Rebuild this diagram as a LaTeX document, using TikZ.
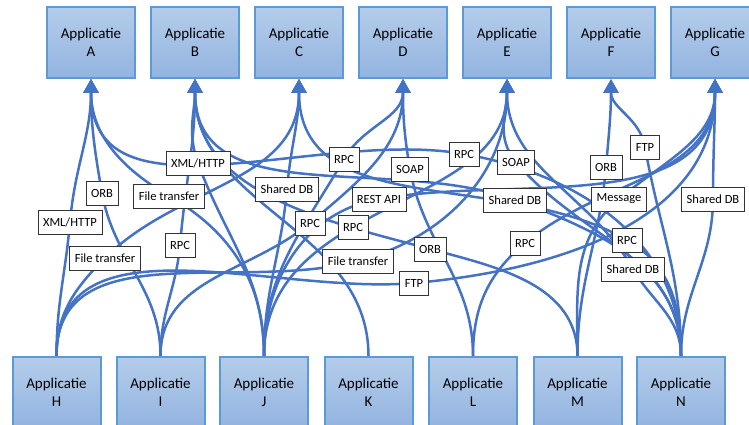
\documentclass[tikz,border=0pt]{standalone}
\usepackage{fontspec}
\setmainfont{Carlito}
\usetikzlibrary{arrows.meta,backgrounds}

\definecolor{appedge}{HTML}{5B9BD5}
\definecolor{apptop}{HTML}{B4CCEA}
\definecolor{appbottom}{HTML}{93B4E0}
\definecolor{linkblue}{HTML}{4472C4}

\tikzset{
  app/.style={draw=appedge, line width=2pt, top color=apptop, bottom color=appbottom,
    minimum width=88, minimum height=71, align=center,
    font=\fontsize{15}{18}\selectfont},
  proto/.style={draw=black!80, fill=white, line width=0.8pt, minimum height=24,
    inner xsep=5, font=\fontsize{12.5}{14}\selectfont},
  link/.style={draw=linkblue, line width=2.5pt,
    -{Triangle[width=15pt,length=14pt]}},
}

\begin{document}
\begin{tikzpicture}[x=1pt,y=-1pt]
  \useasboundingbox (0,0) rectangle (749,425);

  % applications
  \foreach \n/\x in {A/91,B/195,C/299,D/403,E/507,F/611,G/715}
    \node[app] (\n) at (\x,42.5) {Applicatie\\\n};
  \foreach \n/\x in {H/56.5,I/160.5,J/264,K/368.5,L/473,M/577.5,N/681}
    \node[app] (\n) at (\x,392.5) {Applicatie\\\n};

  % protocols
  \node[proto] (xhttp1) at (198,163) {XML/HTTP};
  \node[proto] (orb1)   at (102,193) {ORB};
  \node[proto] (ft1)    at (169,196) {File transfer};
  \node[proto] (xhttp2) at (70,222)  {XML/HTTP};
  \node[proto] (ft2)    at (105,258) {File transfer};
  \node[proto] (rpc1)   at (180,245) {RPC};
  \node[proto] (rpc2)   at (344,159) {RPC};
  \node[proto] (soap1)  at (410,169) {SOAP};
  \node[proto] (rpc3)   at (464,154) {RPC};
  \node[proto] (soap2)  at (516,162) {SOAP};
  \node[proto] (sdb1)   at (287,189) {Shared DB};
  \node[proto] (rest)   at (379,199) {REST API};
  \node[proto] (sdb2)   at (515,200) {Shared DB};
  \node[proto] (rpc4)   at (310,223) {RPC};
  \node[proto] (rpc5)   at (353,227) {RPC};
  \node[proto] (orb2)   at (430,249) {ORB};
  \node[proto] (ft3)    at (358,261) {File transfer};
  \node[proto] (ftp1)   at (414,283) {FTP};
  \node[proto] (orb3)   at (606,167) {ORB};
  \node[proto] (ftp2)   at (645,147) {FTP};
  \node[proto] (msg)    at (619,199) {Message};
  \node[proto] (sdb3)   at (713,199) {Shared DB};
  \node[proto] (rpc6)   at (525,243) {RPC};
  \node[proto] (rpc7)   at (627,240) {RPC};
  \node[proto] (sdb4)   at (633,269) {Shared DB};

  % links: from / via / to / heading through the label
  \begin{pgfonlayer}{background}
    \foreach \from/\via/\to/\dir in {
        H/xhttp2/A/85, H/ft2/C/45, H/ft3/E/15, H/ftp1/G/5,
        I/orb1/A/100, I/rpc1/B/85, I/rpc4/D/40,
        J/ft1/A/150, J/xhttp1/B/110, J/sdb1/C/85, J/rpc5/E/30, J/rest/G/10, J/rpc2/D/60,
        L/soap1/D/100, L/rpc6/G/40,
        M/orb2/B/165, M/orb3/F/85, M/msg/G/40,
        N/rpc3/A/170, N/sdb2/B/160, N/soap2/E/130, N/rpc7/C/150,
        N/ftp2/F/100, N/sdb3/G/90, N/sdb4/E/120}
    {
      \pgfmathsetmacro\back{\dir+180}
      \draw[link] (\from.north) to[out=90,in=\back] (\via.center)
        to[out=\dir,in=-90] (\to.south);
    }
    \draw[link] (K.north) to[out=90,in=-90] (B.south);
  \end{pgfonlayer}
\end{tikzpicture}
\end{document}
